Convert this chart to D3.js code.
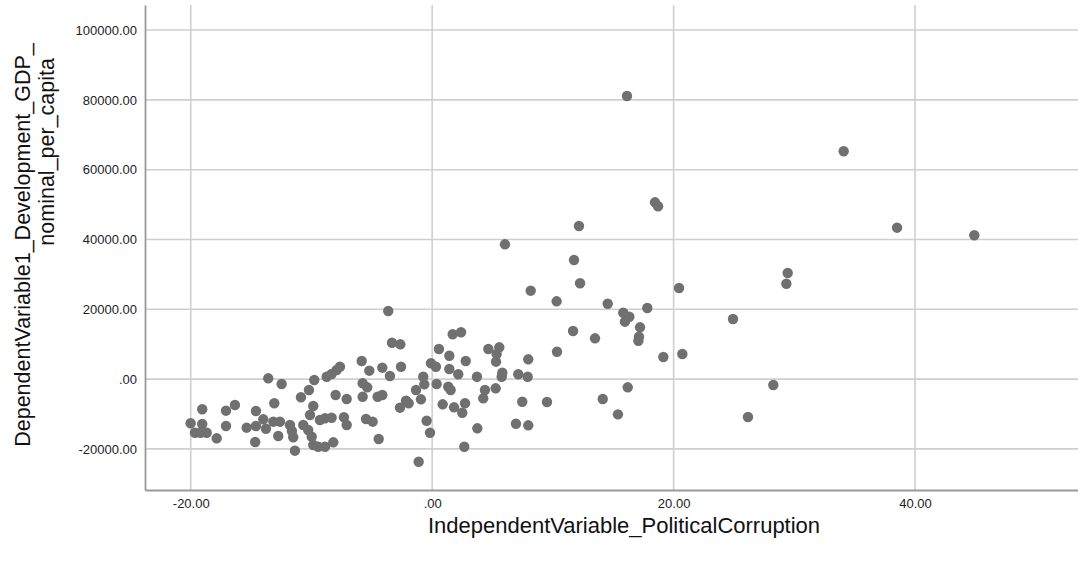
<!DOCTYPE html>
<html>
<head>
<meta charset="utf-8">
<script src="https://cdn.jsdelivr.net/npm/d3@7"></script>
<style>
  body { margin: 0; background: #ffffff; }
  .tickText { font-family: Arial, "Liberation Sans", sans-serif; font-size: 13px; fill: #222222; }
  .axisText { font-family: Arial, "Liberation Sans", sans-serif; font-size: 21.5px; fill: #111111; }
</style>
</head>
<body>
<script>
// Values (x = political corruption, y = GDP nominal per capita)
var corruption = [
  -20.01, -19.05, -19.05, -19.65, -19.18, -18.68, -17.85, -17.08, -16.34, -17.08,
  -15.37, -14.60, -14.60, -14.66, -13.58, -12.47, -13.08, -13.99, -13.77, -13.16,
  -12.61, -12.75, -11.78, -11.51, -11.37, -10.87, -10.21, -9.77, -9.85, -10.12,
  -10.68, -10.27, -9.98, -9.85, -9.30, -8.88, -8.33, -9.44, -8.88, -8.19,
  -8.74, -8.33, -7.91, -7.64, -8.00, -7.08, -7.31, -7.08, -11.62,
  -5.84, -5.21, -5.76, -5.38, -5.76, -4.52, -4.13, -5.48, -4.93, -4.43,
  -4.13, -3.50, -2.58, -3.64, -3.33, -2.64, -2.67, -2.17, -1.95, -1.34,
  -0.93, -0.74, -0.65, -0.46, -0.18, -1.12, -0.10, 0.31, 0.37, 0.56,
  1.42, 1.42, 2.16, 2.78, 1.33, 1.53, 0.87, 1.81, 2.72, 2.49,
  3.71, 4.37, 4.23, 5.26, 4.65, 5.56, 5.34, 5.29, 3.74, 2.66,
  1.70, 2.39,
  5.81, 5.76, 7.13, 7.91, 7.96, 6.03, 8.16, 10.31, 10.34, 7.46,
  9.51, 6.94, 7.96, 12.16, 11.75, 12.25, 11.67, 13.49, 14.54, 15.83,
  16.33, 15.97, 17.82, 17.22, 17.13, 17.08, 14.13, 16.20, 15.39, 19.15,
  20.72, 20.45, 16.14, 18.46, 18.71, 24.92, 28.26, 29.45, 29.34, 34.09,
  38.51, 44.91, 26.16
];

var gdpPerCapita = [
  -12660, -8650, -12860, -15360, -15360, -15360, -16960, -9050, -7420, -13440,
  -13920, -9140, -13440, -18020, 230, -1400, -6930, -11520, -14210, -12200,
  -12200, -16300, -13150, -16670, -20510, -5210, -3120, -260, -7710, -10290,
  -13150, -14580, -16500, -18880, -11720, -11230, -11060, -19370, -19370, -18110,
  690, 1460, 2610, 3550, -4560, -5700, -10940, -13150, -14870,
  5190, 2410, -1200, -2350, -5040, -5040, -4560, -11430, -12200, -17160,
  3270, 890, 3550, 19510, 10430, 9970, -8190, -6190, -6930, -3120,
  -5790, 690, -1490, -11920, -15360, -23670, 4530, 3550, -1400, 8620,
  6700, 2890, 1380, 5190, -2180, -3120, -7220, -8080, -6930, -9630,
  690, -3120, -5500, -2640, 8620, 9110, 7190, 4990, -14100, -19370,
  12840, 13410,
  1830, 690, 1380, 690, 5670, 38620, 25330, 22290, 7850, -6480,
  -6560, -12780, -13240, 43860, 34120, 27450, 13780, 11690, 21600, 19020,
  17880, 16450, 20370, 14840, 12150, 11000, -5700, -2350, -10090, 6330,
  7190, 26100, 81110, 50650, 49510, 17220, -1690, 30400, 27330, 65270,
  43380, 41200, -10860
];

var xTicks = [-20, 0, 20, 40];
var yTicks = [-20000, 0, 20000, 40000, 60000, 80000, 100000];
var xTitle = "IndependentVariable_PoliticalCorruption";
var yTitleLines = ["DependentVariable1_Development_GDP_", "nominal_per_capita"];

var points = corruption.map(function(c, i) {
  return { x: c, y: gdpPerCapita[i] };
});

// SVG area and plot box
var svg_Width = 1078;
var svg_Height = 561;
var plot = { left: 145, top: 5, right: 1078, bottom: 490 };

var svg = d3.select("body")
  .append("svg")
  .attr("width", svg_Width)
  .attr("height", svg_Height);

// Scales (the right side of the plot runs off the picture)
var xScale = d3.scaleLinear()
  .domain([-23.79, 53.5])
  .range([plot.left, plot.right]);

var yScale = d3.scaleLinear()
  .domain([-31770, 107180])
  .range([plot.bottom, plot.top]);

function tickFormat(d) {
  return d === 0 ? ".00" : d.toFixed(2);
}

// Grid lines
svg.append("g")
  .selectAll("line")
  .data(yTicks)
  .enter()
  .append("line")
  .attr("x1", plot.left)
  .attr("x2", plot.right)
  .attr("y1", d => yScale(d))
  .attr("y2", d => yScale(d))
  .attr("stroke", "#cfcfcf")
  .attr("stroke-width", 1.6);

svg.append("g")
  .selectAll("line")
  .data(xTicks)
  .enter()
  .append("line")
  .attr("x1", d => xScale(d))
  .attr("x2", d => xScale(d))
  .attr("y1", plot.top)
  .attr("y2", plot.bottom)
  .attr("stroke", "#cfcfcf")
  .attr("stroke-width", 1.6);

// Axes without tick marks
var bottom_Axis = d3.axisBottom(xScale).tickValues(xTicks).tickFormat(tickFormat).tickSize(0).tickPadding(9);
var left_Axis = d3.axisLeft(yScale).tickValues(yTicks).tickFormat(tickFormat).tickSize(0).tickPadding(8);

var xAxisG = svg.append("g")
  .attr("transform", `translate(0, ${plot.bottom})`)
  .call(bottom_Axis);

var yAxisG = svg.append("g")
  .attr("transform", `translate(${plot.left}, 0)`)
  .call(left_Axis);

[xAxisG, yAxisG].forEach(function(g) {
  g.attr("font-size", null).attr("font-family", null);
  g.select(".domain").attr("stroke", "#9a9a9a").attr("stroke-width", 1.8);
  g.selectAll("text").attr("class", "tickText");
});

// Points
svg.append("g")
  .selectAll("circle")
  .data(points)
  .enter()
  .append("circle")
  .attr("cx", d => xScale(d.x))
  .attr("cy", d => yScale(d.y))
  .attr("r", 5.2)
  .attr("fill", "#707070");

// Axis titles
svg.append("text")
  .attr("class", "axisText")
  .attr("x", 624)
  .attr("y", 533)
  .attr("text-anchor", "middle")
  .style("font-size", "22px")
  .text(xTitle);

// first line centred on the axis, the wrapped rest ends near the top like the reference
svg.append("text")
  .attr("class", "axisText")
  .attr("transform", "translate(30, 245) rotate(-90)")
  .attr("text-anchor", "middle")
  .text(yTitleLines[0]);

svg.append("text")
  .attr("class", "axisText")
  .attr("transform", "translate(54, 58) rotate(-90)")
  .attr("text-anchor", "end")
  .text(yTitleLines[1]);
</script>
</body>
</html>
